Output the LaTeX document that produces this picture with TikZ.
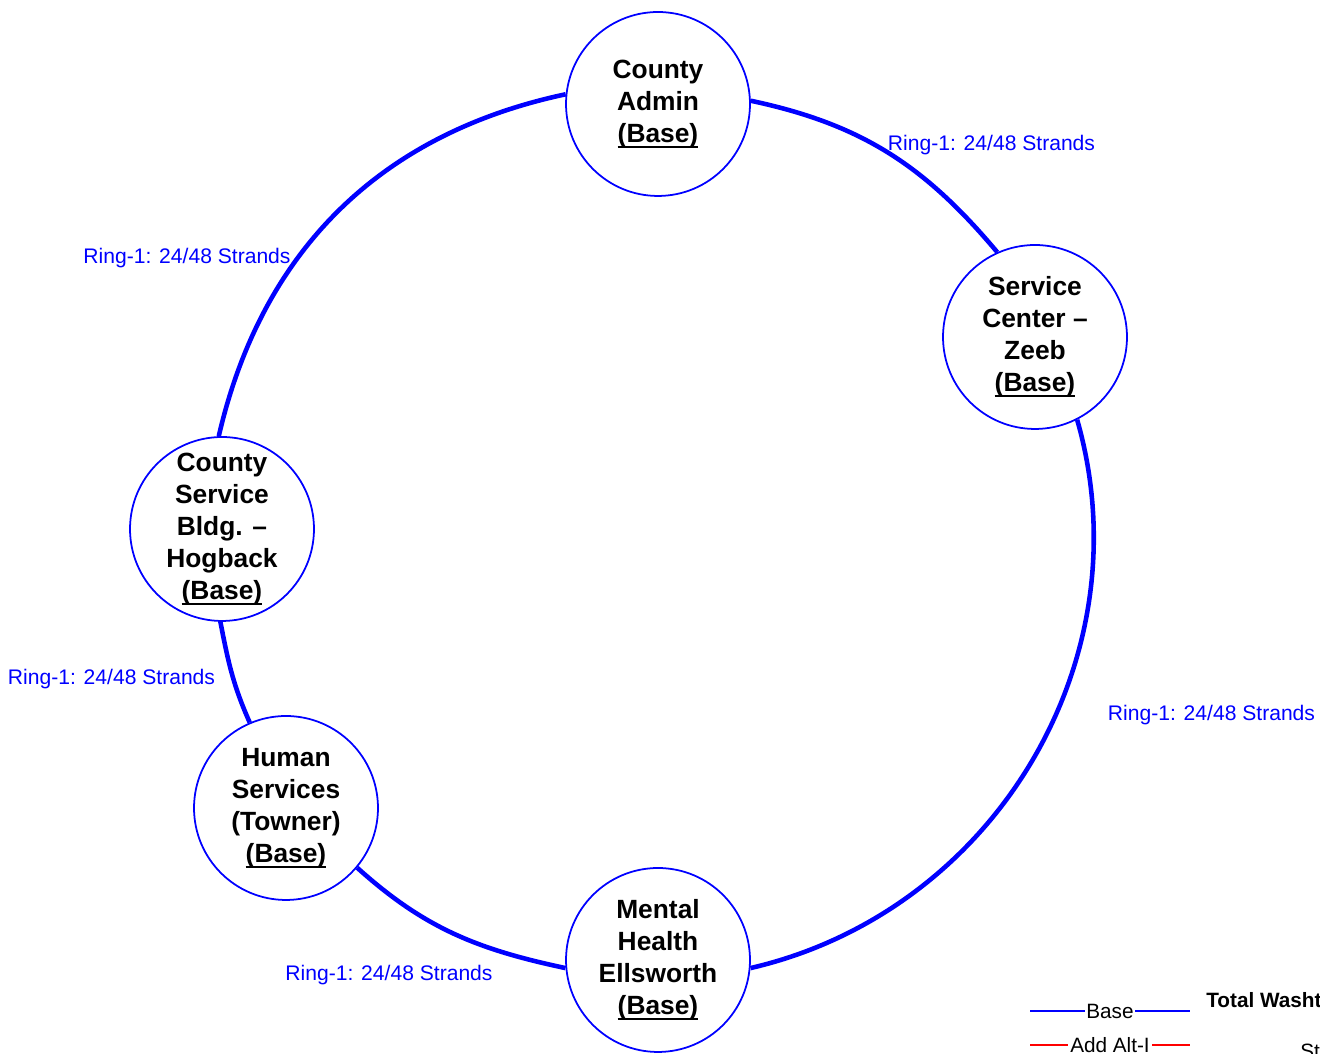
\documentclass[tikz,border=0pt]{standalone}
\usepackage{fontspec}
\setmainfont{Liberation Sans}
\newcommand{\ulbase}[1]{\setbox0\hbox{#1}\rlap{\rule[-3.2pt]{\wd0}{1.3pt}}\box0}
\begin{document}
\begin{tikzpicture}[x=0.02cm,y=0.02cm,
    site/.style={draw=blue,line width=1pt,circle,minimum size=3.68cm,inner sep=-0.5cm,align=center,
        font=\fontsize{15}{18.2}\selectfont\bfseries},
    ring/.style={blue,line width=2.6pt},
    strands/.style={text=blue,inner sep=0pt,font=\fontsize{12}{14}\selectfont},
    legend/.style={inner sep=0pt,font=\fontsize{11.8}{14}\selectfont}]
\useasboundingbox (0,0) rectangle (1320,1054);
\clip (0,0) rectangle (1320,1054);
%Draw the five sites on the ring
    \node[site] (admin) at (658,950) {County\\Admin\\\ulbase{(Base)}};
    \node[site] (zeeb) at (1035,717) {Service\\Center --\\Zeeb\\\ulbase{(Base)}};
    \node[site] (hogback) at (222,525) {County\\Service\\Bldg. --\\Hogback\\\ulbase{(Base)}};
    \node[site] (towner) at (286,246) {Human\\Services\\(Towner)\\\ulbase{(Base)}};
    \node[site] (ellsworth) at (658,94) {Mental\\Health\\Ellsworth\\\ulbase{(Base)}};
%Fibre ring between the sites
    \draw[ring] (admin.2) to[out=-12,in=130] (zeeb.114);
    \draw[ring] (zeeb.-63) to[out=-74,in=13] (ellsworth.-5);
    \draw[ring] (ellsworth.185) to[out=168,in=-42] (towner.-40);
    \draw[ring] (towner.113) to[out=114,in=-79] (hogback.-91);
    \draw[ring] (hogback.92) to[out=77,in=192] (admin.174);
%Strand counts
    \foreach \pos/\name in {(991.5,909)/s1,(187,796)/s2,(111.5,375)/s3,(1211.5,339)/s4,(389,79)/s5}
        {
        \node[strands] (\name) at \pos {Ring-1: 24/48 Strands};
    }
%Legend
    \coordinate (b1) at (1030,43);
    \coordinate (b2) at (1190,43);
    \coordinate (r1) at (1030,9);
    \coordinate (r2) at (1190,9);
    \draw[blue,line width=1pt] (b1) -- node[legend,fill=white,inner xsep=1pt,text=black] (base) {Base} (b2);
    \draw[red,line width=1pt] (r1) -- node[legend,fill=white,inner xsep=1pt,text=black] (alt) {Add Alt-I} (r2);
    \node[legend,anchor=west,font=\fontsize{11.8}{14}\selectfont\bfseries] (total) at (1206,54) {Total Washtenaw};
    \node[legend,anchor=west] (st) at (1300,3) {Strands};
\end{tikzpicture}
\end{document}
